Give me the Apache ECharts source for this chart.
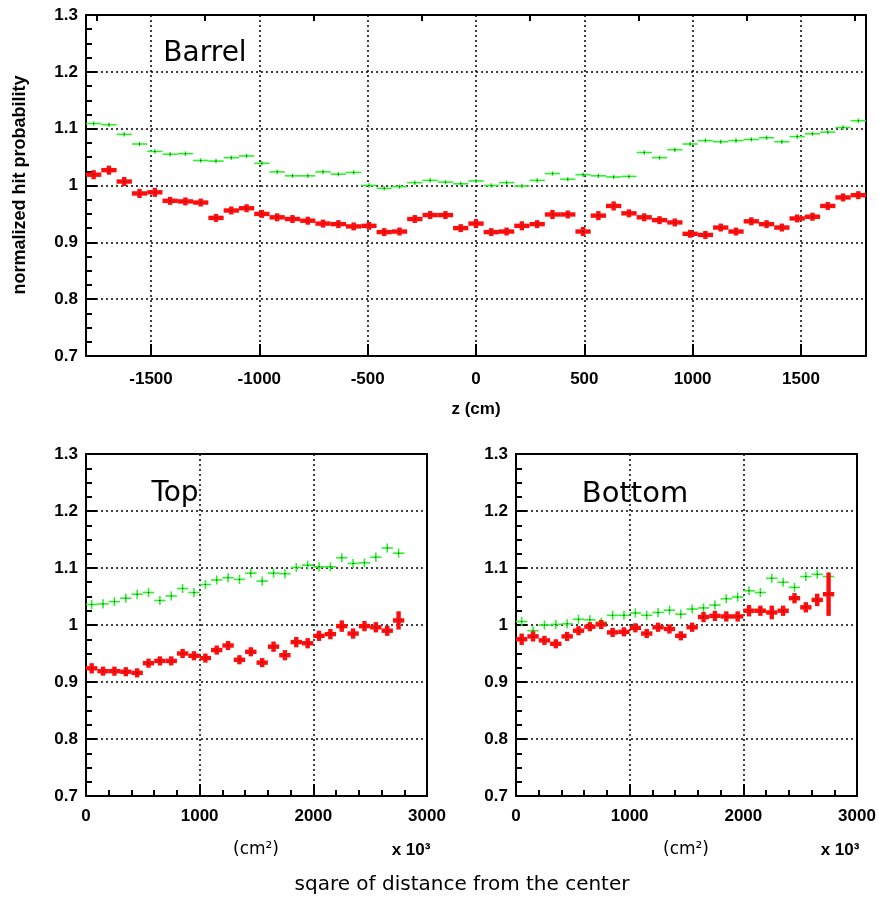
<!DOCTYPE html>
<html>
<head>
<meta charset="utf-8">
<script src="https://cdn.jsdelivr.net/npm/echarts@6/dist/echarts.min.js"></script>
<style>
  html, body { margin: 0; padding: 0; background: #fff; }
  #chart { width: 879px; height: 900px; }
</style>
</head>
<body>
<div id="chart"></div>
<script>
// Barrel: 51 z-bins between -1800 and 1800 cm
const zRange = [-1800, 1800];
const zBinCount = 51;

const barrelRed = [1.019, 1.027, 1.007, 0.986, 0.988, 0.973, 0.972, 0.970, 0.943, 0.956,
  0.960, 0.950, 0.944, 0.941, 0.938, 0.933, 0.932, 0.928, 0.929, 0.918,
  0.919, 0.941, 0.948, 0.948, 0.925, 0.933, 0.918, 0.919, 0.929, 0.932,
  0.949, 0.949, 0.919, 0.947, 0.964, 0.951, 0.944, 0.939, 0.935, 0.915,
  0.913, 0.926, 0.919, 0.937, 0.932, 0.926, 0.942, 0.945, 0.964, 0.979, 0.983];
const barrelRedErr = [0.008, 0.008, 0.008, 0.008, 0.008, 0.007, 0.007, 0.007, 0.007, 0.007,
  0.007, 0.007, 0.007, 0.007, 0.007, 0.007, 0.007, 0.007, 0.007, 0.007,
  0.007, 0.007, 0.007, 0.007, 0.007, 0.008, 0.007, 0.007, 0.008, 0.007,
  0.008, 0.007, 0.008, 0.008, 0.008, 0.007, 0.007, 0.007, 0.007, 0.007,
  0.007, 0.007, 0.007, 0.007, 0.007, 0.007, 0.007, 0.007, 0.007, 0.007, 0.007];

const barrelGreen = [1.109, 1.107, 1.090, 1.073, 1.060, 1.055, 1.056, 1.044, 1.043, 1.049,
  1.052, 1.039, 1.024, 1.017, 1.017, 1.024, 1.020, 1.023, 1.000, 0.995,
  0.998, 1.005, 1.009, 1.006, 1.003, 1.008, 1.000, 1.005, 0.999, 1.009,
  1.021, 1.011, 1.019, 1.017, 1.015, 1.016, 1.058, 1.049, 1.063, 1.073,
  1.079, 1.077, 1.079, 1.081, 1.084, 1.077, 1.086, 1.091, 1.094, 1.102, 1.114];
const barrelGreenErr = 0.004;

// Top / Bottom: bins of 100 (x10^3 cm^2) in the squared distance
const r2Centers = [50, 150, 250, 350, 450, 550, 650, 750, 850, 950,
  1050, 1150, 1250, 1350, 1450, 1550, 1650, 1750, 1850, 1950,
  2050, 2150, 2250, 2350, 2450, 2550, 2650, 2750];
const r2BinWidth = 100;

const topRed = [0.924, 0.919, 0.919, 0.918, 0.916, 0.933, 0.937, 0.937, 0.950, 0.946,
  0.942, 0.956, 0.964, 0.939, 0.953, 0.934, 0.962, 0.947, 0.970, 0.968,
  0.981, 0.984, 0.998, 0.985, 0.998, 0.996, 0.990, 1.008];
const topRedErr = [0.009, 0.008, 0.008, 0.008, 0.008, 0.008, 0.008, 0.008, 0.008, 0.008,
  0.008, 0.008, 0.008, 0.008, 0.008, 0.008, 0.009, 0.009, 0.009, 0.009,
  0.009, 0.009, 0.010, 0.009, 0.009, 0.009, 0.009, 0.016];
const topGreen = [1.036, 1.037, 1.041, 1.047, 1.054, 1.057, 1.043, 1.051, 1.064, 1.057,
  1.071, 1.079, 1.083, 1.080, 1.091, 1.077, 1.091, 1.090, 1.101, 1.105,
  1.102, 1.102, 1.118, 1.108, 1.109, 1.119, 1.135, 1.126];
const topGreenErr = 0.008;

const bottomRed = [0.975, 0.980, 0.973, 0.967, 0.980, 0.990, 0.997, 1.001, 0.987, 0.988,
  0.995, 0.985, 0.996, 0.993, 0.981, 0.996, 1.014, 1.016, 1.015, 1.015,
  1.025, 1.025, 1.022, 1.025, 1.047, 1.031, 1.044, 1.054];
const bottomRedErr = [0.010, 0.009, 0.008, 0.008, 0.008, 0.008, 0.008, 0.008, 0.008, 0.008,
  0.008, 0.008, 0.008, 0.008, 0.008, 0.008, 0.009, 0.009, 0.009, 0.009,
  0.010, 0.009, 0.012, 0.009, 0.009, 0.009, 0.011, 0.038];
const bottomGreen = [1.006, 0.990, 1.000, 1.001, 1.002, 1.010, 1.009, 1.005, 1.017, 1.017,
  1.021, 1.017, 1.022, 1.026, 1.019, 1.028, 1.030, 1.035, 1.046, 1.049,
  1.060, 1.057, 1.082, 1.075, 1.066, 1.085, 1.089, 1.085];
const bottomGreenErr = 0.008;

const yTicksMin = 0.7, yTicksMax = 1.3, yStep = 0.1;
const zMajorTicks = [-1500, -1000, -500, 0, 500, 1000, 1500];
const zMinorTicks = [-1750, -1250, -750, -250, 250, 750, 1250, 1750];

// bin centres of the z histogram
const zBinWidth = (zRange[1] - zRange[0]) / zBinCount;
const zCenters = barrelRed.map((_, i) => zRange[0] + (i + 0.5) * zBinWidth);

function rows(xs, ys, errs, width) {
  return ys.map((y, i) => [xs[i], y, Array.isArray(errs) ? errs[i] : errs, width]);
}

const RED = '#ff0d0d';
const GREEN = '#2cf02c';

// a histogram point: horizontal bar over the bin, vertical bar over the error
function errorCross(color, thick) {
  return function (params, api) {
    const x = api.value(0), y = api.value(1), e = api.value(2), hw = api.value(3) / 2;
    const c = api.coord([x, y]);
    const l = api.coord([x - hw, y]);
    const r = api.coord([x + hw, y]);
    const t = api.coord([x, y + e]);
    const b = api.coord([x, y - e]);
    return {
      type: 'group',
      children: [
        { type: 'line', shape: { x1: l[0], y1: c[1], x2: r[0], y2: c[1] },
          style: { stroke: color, lineWidth: thick } },
        { type: 'line', shape: { x1: c[0], y1: t[1], x2: c[0], y2: b[1] },
          style: { stroke: color, lineWidth: thick } },
        { type: 'rect', shape: { x: c[0] - 0.5, y: c[1] - 0.5, width: 1, height: 1 },
          style: { fill: '#000' } }
      ]
    };
  };
}

const plainNumber = v => String(Math.round(v * 1000) / 1000);
const tickFont = { color: '#000', fontFamily: 'Liberation Sans', fontWeight: 'bold', fontSize: 17,
  formatter: plainNumber };
const dotted = { show: true, lineStyle: { color: '#000', type: [2, 3], width: 1.5 } };
const frameLine = { show: true, onZero: false, lineStyle: { color: '#000', width: 2 } };

function yAxisFor(gridIndex) {
  return {
    type: 'value', gridIndex, min: yTicksMin, max: yTicksMax, interval: yStep,
    axisLine: frameLine,
    axisTick: { show: true, inside: true, length: 11, lineStyle: { color: '#000', width: 2 } },
    minorTick: { show: true, splitNumber: 4, length: 6, lineStyle: { color: '#000', width: 2 } },
    axisLabel: Object.assign({ margin: 8 }, tickFont),
    splitLine: dotted
  };
}

function r2Axis(gridIndex) {
  return {
    type: 'value', gridIndex, min: 0, max: 3000, interval: 1000,
    axisLine: frameLine,
    axisTick: { show: true, inside: true, length: 12, lineStyle: { color: '#000', width: 2 } },
    minorTick: { show: true, splitNumber: 5, length: 6, lineStyle: { color: '#000', width: 2 } },
    axisLabel: Object.assign({ margin: 12 }, tickFont),
    splitLine: dotted
  };
}

const gridBox = { show: true, borderColor: '#000', borderWidth: 2, backgroundColor: 'transparent' };

const chart = echarts.init(document.getElementById('chart'), null, { renderer: 'canvas' });

function label(x, y, text, size, family, weight, extra) {
  return Object.assign({
    type: 'text', x, y, z: 10,
    style: {
      text, fill: '#000', fontFamily: family, fontSize: size, fontWeight: weight || 'normal',
      textAlign: 'center', textVerticalAlign: 'middle'
    }
  }, extra || {});
}

const ROUND = 'DejaVu Sans';
const HELV = 'Liberation Sans';

chart.setOption({
  animation: false,
  backgroundColor: '#fff',
  grid: [
    Object.assign({ left: 86, top: 15, width: 780, height: 341 }, gridBox),
    Object.assign({ left: 86, top: 454, width: 341, height: 342 }, gridBox),
    Object.assign({ left: 516, top: 454, width: 341, height: 342 }, gridBox)
  ],
  xAxis: [
    {
      type: 'value', gridIndex: 0, min: zRange[0], max: zRange[1],
      axisLine: frameLine,
      axisTick: { show: true, inside: true, length: 12, customValues: zMajorTicks,
        lineStyle: { color: '#000', width: 2 } },
      axisLabel: Object.assign({ margin: 15, customValues: zMajorTicks }, tickFont),
      splitLine: dotted
    },
    {
      type: 'value', gridIndex: 0, min: zRange[0], max: zRange[1],
      axisLine: { show: false },
      axisTick: { show: true, inside: true, length: 6, customValues: zMinorTicks,
        lineStyle: { color: '#000', width: 2 } },
      axisLabel: { show: false },
      splitLine: { show: false }
    },
    r2Axis(1),
    r2Axis(2)
  ],
  yAxis: [yAxisFor(0), yAxisFor(1), yAxisFor(2)],
  series: [
    { type: 'custom', xAxisIndex: 0, yAxisIndex: 0, clip: true,
      renderItem: errorCross(GREEN, 1.6), data: rows(zCenters, barrelGreen, barrelGreenErr, zBinWidth) },
    { type: 'custom', xAxisIndex: 0, yAxisIndex: 0, clip: true,
      renderItem: errorCross(RED, 4.4), data: rows(zCenters, barrelRed, barrelRedErr, zBinWidth) },
    { type: 'custom', xAxisIndex: 2, yAxisIndex: 1, clip: true,
      renderItem: errorCross(GREEN, 1.6), data: rows(r2Centers, topGreen, topGreenErr, r2BinWidth) },
    { type: 'custom', xAxisIndex: 2, yAxisIndex: 1, clip: true,
      renderItem: errorCross(RED, 4.4), data: rows(r2Centers, topRed, topRedErr, r2BinWidth) },
    { type: 'custom', xAxisIndex: 3, yAxisIndex: 2, clip: true,
      renderItem: errorCross(GREEN, 1.6), data: rows(r2Centers, bottomGreen, bottomGreenErr, r2BinWidth) },
    { type: 'custom', xAxisIndex: 3, yAxisIndex: 2, clip: true,
      renderItem: errorCross(RED, 4.4), data: rows(r2Centers, bottomRed, bottomRedErr, r2BinWidth) }
  ],
  graphic: [
    label(205, 54, 'Barrel', 28, ROUND),
    label(175, 494, 'Top', 28, ROUND),
    label(635, 494, 'Bottom', 29, ROUND),
    label(476, 409, 'z (cm)', 17, HELV, 'bold'),
    label(20, 185, 'normalized hit probability', 18, HELV, 'bold', { rotation: Math.PI / 2 }),
    label(256, 850, '(cm²)', 17, ROUND),
    label(686, 850, '(cm²)', 17, ROUND),
    label(411, 850, 'x 10³', 17, HELV, 'bold'),
    label(840, 850, 'x 10³', 17, HELV, 'bold'),
    label(462, 885, 'sqare of distance from the center', 20, ROUND)
  ]
});
</script>
</body>
</html>
